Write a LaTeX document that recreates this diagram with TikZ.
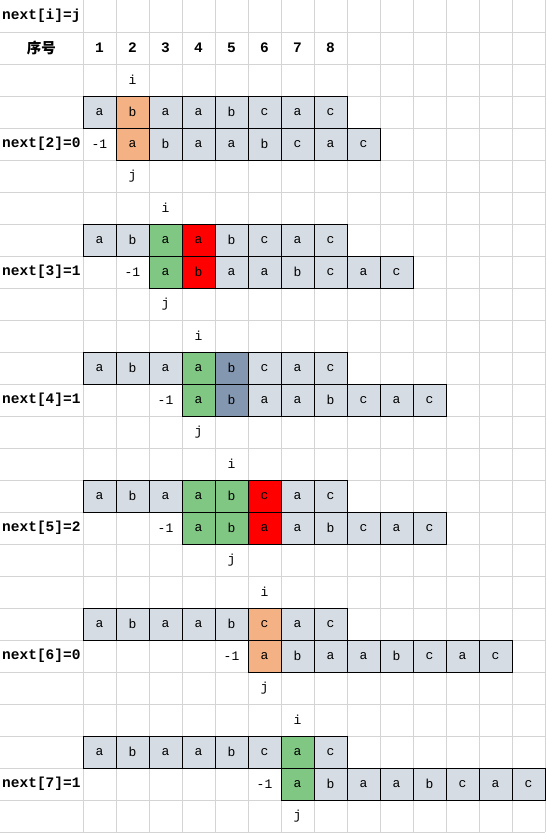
\documentclass[tikz,border=0pt]{standalone}
\usepackage{fontspec}
\setmonofont{Liberation Mono}
\newfontfamily\cjkfont{Noto Sans CJK SC}
\usepackage{tikz}
\usetikzlibrary{positioning}

\definecolor{cellgray}{RGB}{214,220,228}
\definecolor{gridgray}{RGB}{212,212,212}
\definecolor{hitorange}{RGB}{244,177,131}
\definecolor{hitgreen}{RGB}{129,199,132}
\definecolor{missred}{RGB}{255,0,0}
\definecolor{hitblue}{RGB}{132,151,176}

\begin{document}
\begin{tikzpicture}[x=1pt, y=-1pt,
    gridline/.style={draw=gridgray, line width=1pt},
    cell/.style={draw=black, line width=1pt, minimum width=33pt, minimum height=32pt,
                 inner sep=0pt, font=\ttfamily\fontsize{13}{13}\selectfont},
    plain/.style={inner sep=0pt, font=\ttfamily\fontsize{13}{13}\selectfont},
    tag/.style={anchor=west, inner sep=0pt, font=\ttfamily\bfseries\fontsize{14.5}{14.5}\selectfont},
    head/.style={inner sep=0pt, font=\ttfamily\bfseries\fontsize{14.5}{14.5}\selectfont}]
    \useasboundingbox (0,0) rectangle (546,833);
    % Grid
    \foreach \c in {0,...,14}
        \draw[gridline] ({83+33*\c},0) -- ({83+33*\c},832);
    \foreach \r in {1,...,26}
        \draw[gridline] (0,{32*\r}) -- (545,{32*\r});
    % Cell backgrounds
    \foreach \k/\s in {0/2, 1/3, 2/4, 3/4, 4/6, 5/7} {
        \pgfmathtruncatemacro\r{3+4*\k}
        \fill[cellgray] (83,{32*\r}) rectangle (347,{32*\r+32});
        \fill[cellgray] ({50+33*\s},{32*\r+32}) rectangle ({50+33*(\s+8)},{32*\r+64});
    }
    % Matched and mismatched columns
    \fill[hitorange] (116,96) rectangle (149,160);
    \fill[hitgreen] (149,224) rectangle (182,288);
    \fill[missred] (182,224) rectangle (215,288);
    \fill[hitgreen] (182,352) rectangle (215,416);
    \fill[hitblue] (215,352) rectangle (248,416);
    \fill[hitgreen] (182,480) rectangle (248,544);
    \fill[missred] (248,480) rectangle (281,544);
    \fill[hitorange] (248,608) rectangle (281,672);
    \fill[hitgreen] (281,736) rectangle (314,800);
    % Header
    \node[tag] (title) at (2,16) {next[i]=j};
    \node[inner sep=0pt, font=\cjkfont\bfseries\fontsize{14.5}{14.5}\selectfont] (seq) at (41.5,48) {序号};
    \foreach \n in {1,...,8}
        \node[head] (n\n) at ({66.5+33*\n},48) {\n};
    % Steps
    \foreach \k/\s/\v in {0/2/0, 1/3/1, 2/4/1, 3/4/2, 4/6/0, 5/7/1} {
        \pgfmathtruncatemacro\r{3+4*\k}
        \pgfmathtruncatemacro\ic{\k+2}
        \node[plain] (i\k) at ({66.5+33*\ic},{32*\r-16}) {i};
        \node[plain] (j\k) at ({66.5+33*\ic},{32*\r+80}) {j};
        \node[tag] (next\k) at (2,{32*\r+48}) {next[\ic]=\v};
        \node[plain] (m\k) at ({66.5+33*(\s-1)},{32*\r+48}) {-1};
        \foreach \ch [count=\n] in {a,b,a,a,b,c,a,c} {
            \node[cell] (t\k-\n) at ({66.5+33*\n},{32*\r+16}) {\ch};
            \node[cell] (p\k-\n) at ({66.5+33*(\s+\n-1)},{32*\r+48}) {\ch};
        }
    }
\end{tikzpicture}
\end{document}
